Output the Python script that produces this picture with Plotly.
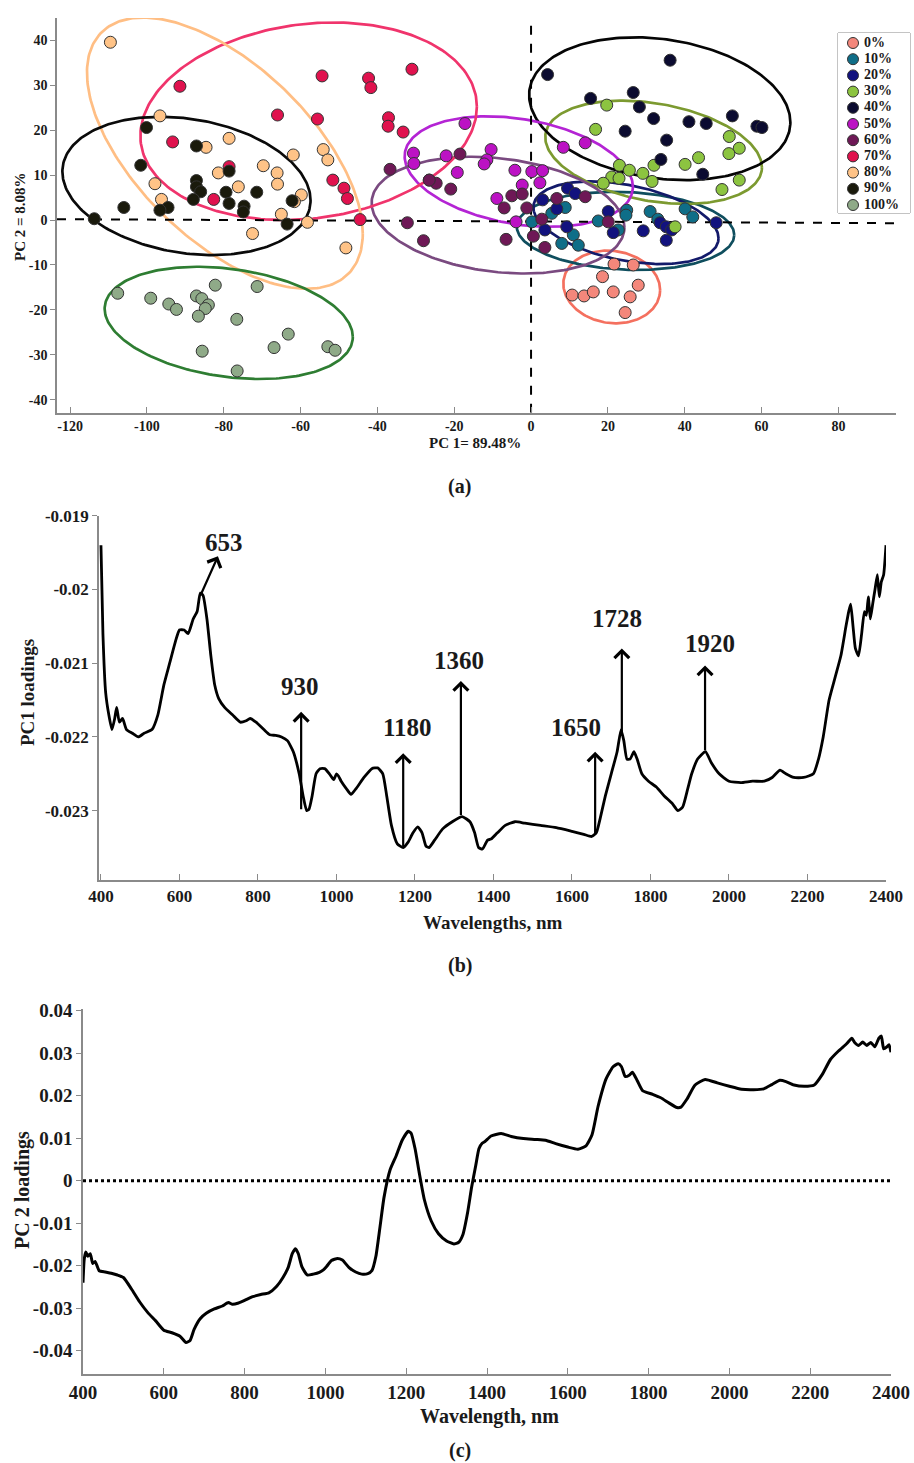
import numpy as np
import plotly.graph_objects as go

# ---------------- Panel (a): PCA scores ----------------
groups = ["0%", "10%", "20%", "30%", "40%", "50%", "60%", "70%", "80%", "90%", "100%"]
marker_colors = ["#F4877B", "#0F6E88", "#12127E", "#8CC440", "#0B0B30", "#BC12C4",
                 "#6E1856", "#E0124E", "#FFC387", "#1A1A0C", "#8FAA88"]
ellipse_colors = ["#F4705F", "#0F4E5E", "#131A6A", "#7C9A30", "#050505", "#B424D4",
                  "#7A4A80", "#F0346C", "#FFBE84", "#0A0A0A", "#2E7D32"]

pc1_0 = [21.6, 26.6, 18.6, 10.7, 13.8, 16.2, 21.4, 27.9, 25.8, 24.5]
pc2_0 = [-9.8, -10.0, -12.6, -16.7, -16.9, -16.0, -16.0, -14.5, -17.1, -20.6]
pc1_10 = [5.4, 8.9, 0.2, 11.0, 8.0, 12.3, 17.5, 22.7, 24.9, 24.7, 31.0, 33.0, 40.1, 42.1]
pc2_10 = [1.5, 2.8, -0.4, -3.3, -5.2, -5.6, -0.2, -2.2, 2.2, 1.1, 1.9, 0.2, 2.5, 0.7]
pc1_20 = [9.5, 11.5, 3.0, 6.7, 9.3, 3.6, 20.1, 21.4, 29.2, 33.6, 35.2, 36.6, 35.2, 48.2]
pc2_20 = [7.1, 5.9, 4.5, 2.5, -1.5, -2.2, 1.9, -2.8, -2.4, -0.6, -1.5, -2.2, -4.5, -0.6]
pc1_30 = [19.7, 16.8, 51.6, 54.2, 51.5, 43.6, 40.1, 32.0, 23.0, 25.6, 29.1, 31.5, 21.0,
          22.9, 18.8, 54.2, 49.7, 37.5]
pc2_30 = [25.6, 20.2, 18.6, 16.0, 14.8, 13.9, 12.4, 12.2, 12.2, 11.1, 10.4, 8.6, 9.6,
          9.3, 8.2, 8.9, 6.8, -1.5]
pc1_40 = [4.3, 36.2, 26.6, 15.5, 28.2, 31.9, 41.1, 45.6, 52.4, 58.8, 60.1, 24.5, 35.3,
          33.8, 44.7]
pc2_40 = [32.4, 35.6, 28.4, 27.1, 25.2, 22.6, 21.9, 21.5, 23.2, 20.9, 20.6, 19.8, 17.8,
          13.5, 10.2]
pc1_50 = [-17.2, -30.6, -30.5, -22.1, -19.2, -26.5, -10.4, -11.5, -12.2, -4.2, 0.2, 3.0,
          2.3, -2.3, -8.9, -3.9, 8.4, 14.1]
pc2_50 = [21.5, 14.9, 12.6, 14.3, 10.6, 8.9, 15.7, 13.4, 12.5, 11.1, 10.8, 11.0, 8.3,
          7.8, 4.8, -0.4, 16.2, 17.2]
pc1_60 = [-36.7, -32.2, -28.0, -24.7, -26.5, -20.9, -18.5, -7.0, -5.0, -2.3, -1.1, -6.5,
          0.6, 3.6, 2.8, 6.7, 14.1, 20.1]
pc2_60 = [11.3, -0.6, -4.6, 8.2, 8.9, 6.9, 14.7, 2.7, 5.4, 5.8, 2.7, -4.3, -3.6, -6.1,
          0.2, 4.8, 5.2, -0.4]
pc1_70 = [-91.4, -54.4, -42.3, -41.7, -31.0, -66.0, -55.6, -37.1, -37.2, -33.3, -93.3,
          -78.6, -51.6, -48.7, -47.8, -82.6, -44.5]
pc2_70 = [29.8, 32.1, 31.6, 29.5, 33.6, 23.4, 22.5, 22.8, 20.9, 19.6, 17.4, 11.9, 8.9,
          7.1, 4.8, 4.6, 0.1]
pc1_80 = [-109.5, -96.6, -78.6, -84.6, -61.9, -54.1, -52.9, -69.7, -66.1, -81.4, -97.9,
          -66.0, -76.2, -96.2, -59.8, -61.6, -65.0, -58.2, -72.5, -48.2]
pc2_80 = [39.6, 23.2, 18.2, 16.2, 14.5, 15.7, 13.4, 12.1, 10.5, 10.5, 8.1, 8.0, 7.4, 4.6,
          5.6, 4.1, 1.3, -0.5, -3.0, -6.2]
pc1_90 = [-100.1, -87.1, -101.6, -78.6, -87.1, -87.1, -86.0, -79.4, -71.4, -87.9, -106.0,
          -94.5, -96.6, -78.6, -74.7, -74.9, -62.2, -63.5, -113.7]
pc2_90 = [20.6, 16.5, 12.2, 10.9, 8.8, 7.4, 6.3, 6.2, 6.2, 4.6, 2.8, 2.8, 2.2, 3.7, 3.1,
          1.8, 4.3, -0.9, 0.3]
pc1_100 = [-107.6, -99.0, -94.3, -92.3, -87.1, -85.7, -84.0, -84.8, -82.2, -86.6, -76.6,
           -71.3, -85.6, -76.5, -66.9, -63.2, -52.9, -51.0]
pc2_100 = [-16.3, -17.4, -18.7, -19.9, -16.9, -17.5, -18.9, -19.7, -14.5, -21.4, -22.1,
           -14.8, -29.2, -33.6, -28.4, -25.4, -28.2, -29.0]

pc1_sets = [pc1_0, pc1_10, pc1_20, pc1_30, pc1_40, pc1_50, pc1_60, pc1_70, pc1_80, pc1_90, pc1_100]
pc2_sets = [pc2_0, pc2_10, pc2_20, pc2_30, pc2_40, pc2_50, pc2_60, pc2_70, pc2_80, pc2_90, pc2_100]

# confidence ellipses: centre, half-width, half-height (score units), tilt phase (deg)
ell_cx = [21.0, 24.6, 24.7, 31.9, 33.5, -3.2, -8.6, -57.9, -79.7, -89.7, -78.7]
ell_cy = [-14.9, -2.4, -0.6, 15.1, 24.8, 10.8, 1.1, 22.0, 14.9, 7.6, -22.9]
ell_w = [12.6, 28.3, 24.1, 28.2, 34.0, 29.7, 32.9, 43.8, 35.9, 32.3, 32.3]
ell_h = [8.1, 8.7, 9.2, 11.5, 15.9, 12.3, 13.0, 22.0, 30.2, 15.4, 12.5]
ell_phase = [-5, -6, -22, -17, -11, -16, -12, 8.5, -36.4, -12, -14.5]

# ---------------- Panel (b): PC1 loadings ----------------
wl_b = [400, 405, 412, 420, 428, 435, 440, 447, 455, 465, 480, 495, 510, 530, 545, 560, 575,
        590, 600, 612, 622, 635, 645, 653, 660, 670, 680, 690, 700, 715, 735, 755, 770, 780,
        795, 815, 830, 845, 860, 875, 890, 905, 915, 924, 930, 938, 948, 958, 970, 982, 993,
        1000, 1005, 1012, 1025, 1037, 1050, 1070, 1090, 1105, 1118, 1128, 1140, 1155, 1170,
        1182, 1195, 1207, 1218, 1228, 1236, 1250, 1270, 1295, 1320, 1340, 1352, 1362, 1372,
        1385, 1395, 1410, 1430, 1455, 1480, 1520, 1560, 1600, 1630, 1650, 1662, 1672, 1685,
        1700, 1715, 1725, 1732, 1740, 1748, 1758, 1766, 1778, 1795, 1815, 1835, 1855, 1870,
        1882, 1895, 1905, 1920, 1940, 1955, 1975, 2000, 2030, 2060, 2090, 2110, 2130, 2145,
        2165, 2190, 2215, 2228, 2240, 2255, 2270, 2285, 2298, 2305, 2310, 2316, 2322, 2330,
        2338, 2345, 2350, 2355, 2360, 2366, 2372, 2378, 2383, 2388, 2394, 2400]
pc1_load = [-0.0194, -0.0206, -0.0214, -0.0217, -0.0219, -0.02175, -0.0216, -0.0218,
            -0.02175, -0.0219, -0.02195, -0.0220, -0.02195, -0.0219, -0.0217, -0.0213,
            -0.0210, -0.0207, -0.02055, -0.02055, -0.0206, -0.0204, -0.0203, -0.02005,
            -0.02008, -0.0204, -0.0209, -0.0213, -0.02148, -0.0216, -0.0217, -0.0218,
            -0.02178, -0.02175, -0.0218, -0.0219, -0.02197, -0.02198, -0.0220, -0.02205,
            -0.0222, -0.0225, -0.0228, -0.0230, -0.02298, -0.0228, -0.0225, -0.02243,
            -0.02243, -0.0225, -0.02258, -0.0225, -0.02253, -0.0226, -0.0227, -0.02278,
            -0.0227, -0.02255, -0.02243, -0.02242, -0.0225, -0.0228, -0.0232, -0.02345,
            -0.0235, -0.02343, -0.0233, -0.02322, -0.0233, -0.02348, -0.0235, -0.0234,
            -0.02325, -0.02315, -0.02308, -0.02315, -0.0233, -0.0235, -0.02352, -0.0234,
            -0.02338, -0.0233, -0.0232, -0.02315, -0.02317, -0.0232, -0.02323, -0.02328,
            -0.02332, -0.02335, -0.0233, -0.0231, -0.0228, -0.0225, -0.0222, -0.0219,
            -0.02205, -0.0223, -0.0223, -0.0222, -0.0223, -0.0225, -0.0226, -0.02268,
            -0.0228, -0.0229, -0.0230, -0.02295, -0.0227, -0.0225, -0.0223, -0.0222,
            -0.02235, -0.0225, -0.0226, -0.02262, -0.0226, -0.0226, -0.02255, -0.02245,
            -0.0225, -0.02255, -0.02255, -0.0225, -0.0223, -0.0220, -0.0215, -0.0212,
            -0.0209, -0.0205, -0.0203, -0.0202, -0.0205, -0.0208, -0.0209, -0.0206,
            -0.0203, -0.02035, -0.0201, -0.0204, -0.0202, -0.0200, -0.0198, -0.0201,
            -0.0199, -0.0198, -0.0194]

peak_labels = ["653", "930", "1180", "1360", "1650", "1728", "1920"]
arrow_tail_wl = [652, 910, 1170, 1317, 1659, 1727, 1939]
arrow_tail_val = [-0.0201, -0.0230, -0.0235, -0.02308, -0.02335, -0.0220, -0.0222]
arrow_head_wl = [698, 910, 1170, 1317, 1659, 1727, 1939]
arrow_head_val = [-0.01955, -0.02166, -0.02222, -0.02124, -0.0222, -0.0208, -0.02103]
label_wl = [713, 907, 1182, 1312, 1610, 1715, 1952]
label_val = [-0.01937, -0.02132, -0.02187, -0.02096, -0.02187, -0.0204, -0.02073]

# ---------------- Panel (c): PC2 loadings ----------------
wl_c = [400, 403, 407, 412, 418, 424, 430, 440, 455, 470, 485, 500, 520, 540, 560, 580, 600,
        620, 640, 655, 665, 675, 690, 705, 725, 745, 760, 770, 785, 800, 820, 840, 860, 880,
        895, 908, 918, 926, 933, 942, 955, 970, 985, 995, 1003, 1015, 1030, 1042, 1058, 1075,
        1090, 1105, 1115, 1125, 1135, 1145, 1160, 1175, 1190, 1205, 1212, 1222, 1232, 1245,
        1262, 1280, 1300, 1318, 1330, 1340, 1352, 1362, 1372, 1380, 1388, 1395, 1410, 1435,
        1460, 1490, 1520, 1545, 1570, 1600, 1625, 1645, 1660, 1675, 1695, 1712, 1725, 1733,
        1742, 1752, 1760, 1772, 1785, 1810, 1830, 1850, 1870, 1880, 1895, 1915, 1940, 1970,
        2000, 2030, 2060, 2085, 2105, 2125, 2140, 2160, 2185, 2210, 2230, 2250, 2270, 2290,
        2303, 2310, 2320, 2330, 2340, 2350, 2360, 2370, 2376, 2382, 2390, 2395, 2400]
pc2_load = [-0.024, -0.0185, -0.0168, -0.0178, -0.0172, -0.0195, -0.019, -0.0212, -0.0215,
            -0.0218, -0.0222, -0.0228, -0.0255, -0.0285, -0.031, -0.033, -0.0352, -0.0358,
            -0.0366, -0.0381, -0.0376, -0.035, -0.0325, -0.0312, -0.0302, -0.0295, -0.0287,
            -0.0291, -0.0288, -0.0282, -0.0273, -0.0268, -0.0264, -0.0248, -0.0228, -0.0204,
            -0.0172, -0.016, -0.0172, -0.0203, -0.0222, -0.022, -0.0216, -0.021, -0.0202,
            -0.0188, -0.0183, -0.0187, -0.0204, -0.0215, -0.022, -0.0219, -0.0212, -0.0178,
            -0.011, -0.004, 0.0025, 0.0058, 0.0095, 0.0116, 0.0112, 0.0075, 0.002, -0.0045,
            -0.0095, -0.0125, -0.0142, -0.0149, -0.0145, -0.0128, -0.0075, -0.0015, 0.0035,
            0.0075, 0.0088, 0.0092, 0.0105, 0.0111, 0.0104, 0.0099, 0.0097, 0.0095, 0.0087,
            0.0079, 0.0074, 0.0082, 0.0108, 0.0175, 0.024, 0.0268, 0.0275, 0.0268, 0.0245,
            0.0248, 0.0255, 0.0235, 0.0212, 0.0203, 0.0195, 0.0183, 0.0172, 0.0173, 0.0192,
            0.0225, 0.0238, 0.023, 0.0222, 0.0215, 0.0214, 0.0216, 0.0226, 0.0236, 0.0233,
            0.0225, 0.0222, 0.0225, 0.025, 0.0285, 0.0305, 0.0322, 0.0335, 0.0325, 0.0318,
            0.0326, 0.0318, 0.0325, 0.0315, 0.0335, 0.034, 0.031, 0.0315, 0.032, 0.0302]

# ---------------- Figure ----------------
W, H = 914, 1463
SERIF = "Liberation Serif, Times New Roman, serif"
AXC = "#8a8a8a"
TXT = "#1a1a1a"


def px_x(p):
    return p / W


def px_y(p):
    return 1 - p / H


fig = go.Figure()

# Ellipses (panel a)
t = np.linspace(0, 2 * np.pi, 241)
for i in range(len(groups)):
    d = np.deg2rad(ell_phase[i])
    ex = ell_cx[i] + ell_w[i] * np.cos(t)
    ey = ell_cy[i] + ell_h[i] * np.sin(t + d)
    fig.add_trace(go.Scatter(x=ex, y=ey, mode="lines", xaxis="x", yaxis="y",
                             line=dict(color=ellipse_colors[i], width=2.7),
                             showlegend=False, hoverinfo="skip"))

# Reference dashed lines (panel a)
fig.add_trace(go.Scatter(x=[-123.4, 96], y=[0.2, -0.7], mode="lines", xaxis="x", yaxis="y",
                         line=dict(color="black", width=2, dash="dash"), showlegend=False,
                         hoverinfo="skip", cliponaxis=False))
fig.add_trace(go.Scatter(x=[0, 0], y=[-42.9, 45.5], mode="lines", xaxis="x", yaxis="y",
                         line=dict(color="black", width=2, dash="dash"), showlegend=False,
                         hoverinfo="skip", cliponaxis=False))

# Score markers
for i, g in enumerate(groups):
    fig.add_trace(go.Scatter(x=pc1_sets[i], y=pc2_sets[i], mode="markers", name=g,
                             xaxis="x", yaxis="y", showlegend=False,
                             marker=dict(size=12, color=marker_colors[i],
                                         line=dict(color="#333333", width=1))))

# Hand-built legend on its own small axes (pixel units inside the box)
leg_idx = list(range(len(groups)))
leg_x = [15] * len(groups)
leg_y = [10 + 16.2 * i for i in leg_idx]
fig.add_trace(go.Scatter(x=leg_x, y=leg_y, mode="markers", xaxis="x4", yaxis="y4",
                         showlegend=False, hoverinfo="skip",
                         marker=dict(size=11, color=marker_colors,
                                     line=dict(color="#333333", width=1))))
fig.add_trace(go.Scatter(x=[26] * len(groups), y=leg_y, mode="text", xaxis="x4", yaxis="y4",
                         text=["<b>%s</b>" % g for g in groups], textposition="middle right",
                         textfont=dict(family=SERIF, size=14, color=TXT),
                         showlegend=False, hoverinfo="skip"))

# Panel b curve
fig.add_trace(go.Scatter(x=wl_b, y=pc1_load, mode="lines", xaxis="x2", yaxis="y2",
                         line=dict(color="black", width=2.8, shape="spline", smoothing=0.5),
                         showlegend=False))

# Panel c curve + zero line
fig.add_trace(go.Scatter(x=[400, 2400], y=[0, 0], mode="lines", xaxis="x3", yaxis="y3",
                         line=dict(color="black", width=3, dash="dot"), showlegend=False,
                         hoverinfo="skip"))
fig.add_trace(go.Scatter(x=wl_c, y=pc2_load, mode="lines", xaxis="x3", yaxis="y3",
                         line=dict(color="black", width=3, shape="spline", smoothing=0.5),
                         showlegend=False))

annotations = []
for i, lab in enumerate(peak_labels):
    annotations.append(dict(x=arrow_head_wl[i], y=arrow_head_val[i], xref="x2", yref="y2",
                            ax=arrow_tail_wl[i], ay=arrow_tail_val[i], axref="x2", ayref="y2",
                            text="", showarrow=True, arrowhead=4, arrowsize=1.3,
                            arrowwidth=2.2, arrowcolor="black", standoff=0, startstandoff=0))
    annotations.append(dict(x=label_wl[i], y=label_val[i], xref="x2", yref="y2",
                            text="<b>%s</b>" % lab, showarrow=False,
                            font=dict(family=SERIF, size=25, color=TXT)))


def ann(text, x, y, size, angle=0):
    annotations.append(dict(x=px_x(x), y=px_y(y), xref="paper", yref="paper",
                            text="<b>%s</b>" % text, showarrow=False, textangle=angle,
                            font=dict(family=SERIF, size=size, color=TXT),
                            xanchor="center", yanchor="middle"))


ann("PC 1= 89.48%", 475, 443, 15)
ann("PC 2 = 8.08%", 20, 217, 15, -90)
ann("(a)", 460, 487, 20)
ann("PC1 loadings", 28, 693, 19, -90)
ann("Wavelengths, nm", 493, 922, 19)
ann("(b)", 460, 965, 20)
ann("PC 2 loadings", 22, 1190, 20, -90)
ann("Wavelength, nm", 489, 1416, 20)
ann("(c)", 460, 1450, 20)

shapes = [dict(type="rect", xref="paper", yref="paper",
               x0=px_x(838), x1=px_x(910), y0=px_y(213), y1=px_y(33),
               line=dict(color="#888888", width=1), fillcolor="rgba(0,0,0,0)", layer="below")]

common_x = dict(showline=True, linecolor=AXC, linewidth=1.5, ticks="inside", tickcolor=AXC,
                ticklen=6, tickwidth=1.2, showgrid=False, zeroline=False, mirror=False,
                automargin=False)
common_y = dict(showline=True, linecolor=AXC, linewidth=1.5, ticks="outside", tickcolor=AXC,
                ticklen=5, tickwidth=1.2, showgrid=False, zeroline=False, mirror=False,
                automargin=False)

xa_ticks = [-120, -100, -80, -60, -40, -20, 0, 20, 40, 60, 80]
ya_ticks = [-40, -30, -20, -10, 0, 10, 20, 30, 40]
yb_ticks = [-0.019, -0.020, -0.021, -0.022, -0.023]
yb_text = ["-0.019", "-0.02", "-0.021", "-0.022", "-0.023"]
wl_ticks = [400, 600, 800, 1000, 1200, 1400, 1600, 1800, 2000, 2200, 2400]
yc_ticks = [0.04, 0.03, 0.02, 0.01, 0, -0.01, -0.02, -0.03, -0.04]
yc_text = ["0.04", "0.03", "0.02", "0.01", "0", "-0.01", "-0.02", "-0.03", "-0.04"]


def tf(size):
    return dict(family=SERIF, size=size, color=TXT, weight="bold")


fig.update_layout(
    width=W, height=H,
    margin=dict(l=0, r=0, t=0, b=0, autoexpand=False),
    paper_bgcolor="white", plot_bgcolor="white",
    font=dict(family=SERIF, color=TXT),
    showlegend=False,
    xaxis=dict(domain=[px_x(57), px_x(896)], range=[-123.4, 95], anchor="y",
               tickvals=xa_ticks, ticktext=[str(v) for v in xa_ticks],
               tickfont=tf(14), **common_x),
    yaxis=dict(domain=[px_y(412.7), px_y(18)], range=[-42.9, 45], anchor="x",
               tickvals=ya_ticks, ticktext=[str(v) for v in ya_ticks],
               tickfont=tf(14), **common_y),
    xaxis2=dict(domain=[px_x(99), px_x(886)], range=[395, 2400], anchor="y2",
                tickvals=wl_ticks, ticktext=[str(v) for v in wl_ticks],
                tickfont=tf(17), **common_x),
    yaxis2=dict(domain=[px_y(880), px_y(515.7)], range=[-0.02394, -0.019], anchor="x2",
                tickvals=yb_ticks, ticktext=yb_text,
                tickfont=tf(17), **common_y),
    xaxis3=dict(domain=[px_x(83), px_x(891)], range=[400, 2400], anchor="y3",
                tickvals=wl_ticks, ticktext=[str(v) for v in wl_ticks],
                tickfont=tf(19), **common_x),
    yaxis3=dict(domain=[px_y(1374), px_y(1008.5)], range=[-0.0455, 0.0405], anchor="x3",
                tickvals=yc_ticks, ticktext=yc_text,
                tickfont=tf(19), **common_y),
    xaxis4=dict(domain=[px_x(838), px_x(910)], range=[0, 72], anchor="y4", visible=False,
                fixedrange=True),
    yaxis4=dict(domain=[px_y(213), px_y(33)], range=[180, 0], anchor="x4", visible=False,
                fixedrange=True),
    annotations=annotations,
    shapes=shapes,
)

fig.write_html("out.html", config={"displayModeBar": False},
               post_script="document.body.style.margin='0px';"
                           "document.body.style.overflow='hidden';")
